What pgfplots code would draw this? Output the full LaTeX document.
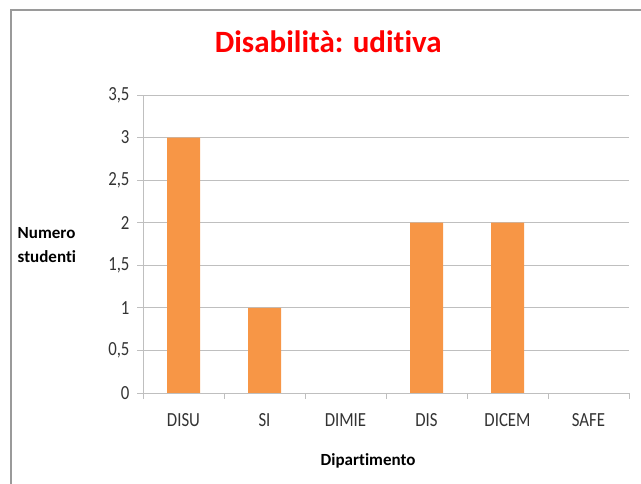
\documentclass[border=0pt]{standalone}
\usepackage{pgfplots}
\pgfplotsset{compat=1.18}
\usepackage{fontspec}
\setmainfont{Carlito}[Ligatures={NoCommon,NoContextual}]
\newfontfamily\tickfont{Carlito}[FakeStretch=0.84, Ligatures={NoCommon,NoContextual}]
\definecolor{barorange}{HTML}{F79646}
\definecolor{gridgray}{HTML}{BFBFBF}
\definecolor{framegray}{HTML}{9A9A9A}
\definecolor{titlered}{HTML}{FF0000}
\begin{document}
\begin{tikzpicture}
\useasboundingbox (0bp,0bp) rectangle (641bp,484bp);
\draw[framegray, line width=2bp] (11bp,0bp) -- (11bp,474bp) -- (641bp,474bp);
\begin{axis}[
  at={(143bp,91bp)}, anchor=south west,
  scale only axis, width=486bp, height=298bp,
  xmin=-0.5, xmax=5.5, ymin=0, ymax=3.5,
  ytick={0,0.5,...,3.5},
  xtick={0,1,2,3,4,5},
  xticklabels={DISU,SI,DIMIE,DIS,DICEM,SAFE},
  minor xtick={-0.5,0.5,1.5,2.5,3.5,4.5,5.5},
  xtick style={draw=none},
  minor x tick style={draw=gridgray, line width=0.8bp},
  ytick style={draw=gridgray, line width=0.8bp},
  major tick length=6bp, minor tick length=6bp,
  tick align=outside,
  axis x line*=bottom, axis y line*=left,
  axis line style={draw=gridgray, line width=0.8bp, -},
  ymajorgrids, grid style={draw=gridgray, line width=0.8bp},
  /pgf/number format/assume math mode=true,
  /pgf/number format/use comma,
  yticklabel style={font=\tickfont\fontsize{20bp}{22bp}\selectfont, text=black!80, /pgf/number format/fixed, xshift=-4bp},
  xticklabel style={font=\tickfont\fontsize{20bp}{22bp}\selectfont, text=black!80, yshift=-11bp},
  title={Disabilità: uditiva},
  title style={at={(rel axis cs:0.381,1.121)}, anchor=base, font=\fontsize{31bp}{36bp}\selectfont\bfseries, text=titlered},
  xlabel={Dipartimento},
  every axis x label/.style={at={(rel axis cs:0.463,-0.243)}, anchor=base, font=\fontsize{17bp}{20bp}\selectfont\bfseries},
  ylabel={Numero\\studenti},
  every axis y label/.style={at={(rel axis cs:-0.265,0.497)}, anchor=west, align=left, font=\fontsize{17bp}{24bp}\selectfont\bfseries},
  ybar, bar width=33bp,
]
\addplot[fill=barorange, draw=none, y filter/.expression={y==0 ? nan : y}] coordinates {(0,3) (1,1) (2,0) (3,2) (4,2) (5,0)};
\end{axis}
\end{tikzpicture}
\end{document}
